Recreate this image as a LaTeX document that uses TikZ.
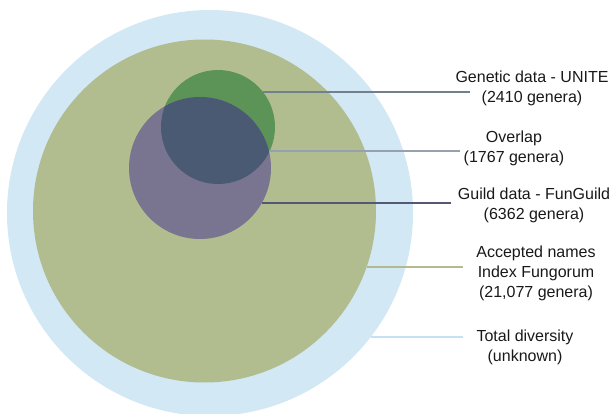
\documentclass[tikz,border=0pt]{standalone}
\usepackage{fontspec}
\setmainfont{Liberation Sans}
\definecolor{totalblue}{RGB}{210,232,245}
\definecolor{indexolive}{RGB}{177,189,143}
\definecolor{unitegreen}{RGB}{92,148,88}
\definecolor{guildpurple}{RGB}{121,117,145}
\definecolor{overlapslate}{RGB}{74,90,114}
\definecolor{labeltext}{RGB}{25,25,25}
\tikzset{
	lbl/.style={align=center,inner sep=0pt,text=labeltext,font=\fontsize{16}{20}\selectfont},
	lead/.style={line width=1.2pt}
}
\begin{document}
\begin{tikzpicture}[x=1pt,y=1pt,line join=round]
		%==sizes of the circles
		\def\rT{203}
		\def\rI{171.5}
		\def\rU{57}
		\def\rG{71}
		%==============
		\useasboundingbox (0,0) rectangle (613,-414);
		\begin{scope}
		\clip (0,0) rectangle (613,-414);
		\fill[totalblue] (210,-213)coordinate(T) circle[radius=\rT pt];
		\end{scope}
		\fill[indexolive] (204.5,-211)coordinate(I) circle[radius=\rI pt];
		\fill[unitegreen] (218,-127)coordinate(U) circle[radius=\rU pt];
		\fill[guildpurple] (200,-168)coordinate(G) circle[radius=\rG pt];
		\begin{scope}
		\clip (G) circle[radius=\rG pt];
		\fill[overlapslate] (U) circle[radius=\rU pt];
		\end{scope}
		%==labels
		\node[lbl] (gen) at (532,-88) {Genetic data - UNITE\\(2410 genera)};
		\node[lbl] (ovl) at (514,-148) {Overlap\\(1767 genera)};
		\node[lbl] (gld) at (534,-205) {Guild data - FunGuild\\(6362 genera)};
		\node[lbl] (acc) at (536,-273) {Accepted names\\Index Fungorum\\(21,077 genera)};
		\node[lbl] (tot) at (525,-347) {Total diversity\\(unknown)};
		%==leader lines
		\path
		(263,-92)coordinate(U1) (470,-92)coordinate(U2)
		(269,-151)coordinate(O1) (460,-151)coordinate(O2)
		(262,-203)coordinate(G1) (451,-203)coordinate(G2)
		(367,-267)coordinate(I1) (463,-267)coordinate(I2)
		(371,-337)coordinate(T1) (463,-337)coordinate(T2);
		\draw[lead,color={rgb,255:red,112;green,128;blue,140}] (U1)--(U2);
		\draw[lead,color={rgb,255:red,150;green,160;blue,176}] (O1)--(O2);
		\draw[lead,color={rgb,255:red,84;green,88;blue,114}] (G1)--(G2);
		\draw[lead,color={rgb,255:red,180;green,186;blue,142}] (I1)--(I2);
		\draw[lead,color={rgb,255:red,196;green,226;blue,243}] (T1)--(T2);
		\end{tikzpicture}
\end{document}
